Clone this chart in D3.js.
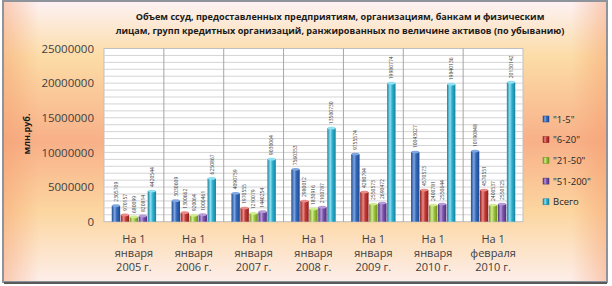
<!DOCTYPE html>
<html>
<head>
<meta charset="utf-8">
<script src="https://cdn.jsdelivr.net/npm/d3@7"></script>
<style>
  body { margin: 0; background: #ffffff; }
  text { font-family: "Open Sans", "Liberation Sans", sans-serif; }
</style>
</head>
<body>
<svg id="chart"></svg>
<script>
const width = 612;
const height = 286;

// data
const periods = [
  ["На 1", "января", "2005 г."],
  ["На 1", "января", "2006 г."],
  ["На 1", "января", "2007 г."],
  ["На 1", "января", "2008 г."],
  ["На 1", "января", "2009 г."],
  ["На 1", "января", "2010 г."],
  ["На 1", "февраля", "2010 г."]
];
const seriesNames = ["\"1-5\"", "\"6-20\"", "\"21-50\"", "\"51-200\"", "Всего"];
const group1_5 = [2305709, 3030609, 4090759, 7560353, 9755574, 10043027, 10190848];
const group6_20 = [970157, 1300662, 1970555, 2980012, 4280794, 4570573, 4570551];
const group21_50 = [680099, 920064, 1210079, 1830916, 2550573, 2400781, 2400537];
const group51_200 = [820814, 1000461, 1440254, 2100787, 2690472, 2550644, 2550125];
const total = [4420544, 6250867, 9030064, 13500730, 19980774, 19840136, 20130142];
const yTicks = [0, 5000000, 10000000, 15000000, 20000000, 25000000];
const titleLines = [
  "Объем ссуд, предоставленных предприятиям, организациям, банкам и физическим",
  "лицам, групп кредитных организаций, ранжированных по величине активов (по убыванию)"
];

const seriesValues = [group1_5, group6_20, group21_50, group51_200, total];
const colors = [
  { dark: "#1d4a8f", mid: "#3468b8", light: "#7fa6e0" },
  { dark: "#8e1f1d", mid: "#c23a36", light: "#ea8a86" },
  { dark: "#6d8f1f", mid: "#9cc43e", light: "#d2ec92" },
  { dark: "#4f2f7a", mid: "#7a52aa", light: "#b79ad8" },
  { dark: "#1a7f99", mid: "#2eb1d0", light: "#8fe0f2" }
];

const plot = { left: 104, right: 523, top: 48.5, bottom: 221.7 };

const svg = d3.select("#chart")
  .attr("width", width)
  .attr("height", height);

const defs = svg.append("defs");

const bg = defs.append("linearGradient")
  .attr("id", "bg").attr("x1", 0).attr("y1", 0).attr("x2", 0).attr("y2", 1);
[["0", "#fdf2f5"], ["0.2", "#fcdca6"], ["0.5", "#f8b088"], ["0.75", "#fcd6a0"], ["1", "#fdeeea"]]
  .forEach(([o, c]) => bg.append("stop").attr("offset", o).attr("stop-color", c));

const edges = defs.append("linearGradient")
  .attr("id", "edges").attr("x1", 0).attr("y1", 0).attr("x2", 1).attr("y2", 0);
[["0", "#f49a6a", 0.45], ["0.06", "#f49a6a", 0], ["0.94", "#f49a6a", 0], ["1", "#f49a6a", 0.45]]
  .forEach(([o, c, a]) => edges.append("stop").attr("offset", o).attr("stop-color", c).attr("stop-opacity", a));

colors.forEach((c, i) => {
  const g = defs.append("linearGradient")
    .attr("id", "bar" + i).attr("x1", 0).attr("y1", 0).attr("x2", 1).attr("y2", 0);
  g.append("stop").attr("offset", "0").attr("stop-color", c.dark);
  g.append("stop").attr("offset", "0.35").attr("stop-color", c.light);
  g.append("stop").attr("offset", "0.6").attr("stop-color", c.mid);
  g.append("stop").attr("offset", "1").attr("stop-color", c.dark);
});

// frame
svg.append("rect")
  .attr("x", 3).attr("y", 1).attr("width", 604).attr("height", 281)
  .attr("fill", "url(#bg)");
svg.append("rect")
  .attr("x", 3).attr("y", 1).attr("width", 604).attr("height", 281)
  .attr("fill", "url(#edges)")
  .attr("stroke", "#8f949c").attr("stroke-width", 2);
svg.append("line")
  .attr("x1", 4).attr("x2", 607).attr("y1", 283).attr("y2", 283)
  .attr("stroke", "#5a5a5a").attr("stroke-width", 2);

// title
svg.append("g").selectAll("text")
  .data(titleLines)
  .join("text")
  .attr("x", 340)
  .attr("y", (d, i) => 20 + i * 13.5)
  .attr("text-anchor", "middle")
  .attr("font-size", "9.1px")
  .attr("font-weight", "bold")
  .attr("fill", "#1a1a1a")
  .text(d => d);

const x = d3.scaleBand()
  .domain(d3.range(periods.length))
  .range([plot.left, plot.right]);

const xInner = d3.scaleBand()
  .domain(d3.range(seriesNames.length))
  .range([0, x.bandwidth()])
  .paddingOuter(0.83);

const y = d3.scaleLinear()
  .domain([0, 25000000])
  .range([plot.bottom, plot.top]);

// plot area
svg.append("rect")
  .attr("x", plot.left).attr("y", plot.top)
  .attr("width", plot.right - plot.left).attr("height", plot.bottom - plot.top)
  .attr("fill", "#ffffff")
  .attr("stroke", "#bfbfbf");

svg.append("g")
  .selectAll("line")
  .data(d3.range(1000000, 25000000, 1000000))
  .join("line")
  .attr("x1", plot.left).attr("x2", plot.right)
  .attr("y1", d => y(d)).attr("y2", d => y(d))
  .attr("stroke", "#d4d4d4");

svg.append("g")
  .selectAll("line")
  .data(d3.range(1, periods.length))
  .join("line")
  .attr("x1", d => x(d)).attr("x2", d => x(d))
  .attr("y1", plot.top).attr("y2", plot.bottom)
  .attr("stroke", "#a6a6a6");

// y axis
const yAxis = d3.axisLeft(y)
  .tickValues(yTicks)
  .tickSize(0)
  .tickPadding(10)
  .tickFormat(d3.format("d"));

svg.append("g")
  .attr("transform", `translate(${plot.left},0)`)
  .call(yAxis)
  .call(g => g.select(".domain").remove())
  .call(g => g.selectAll("text")
    .attr("font-size", "11.5px")
    .attr("fill", "#404040")
    .attr("font-family", "'Open Sans', sans-serif"));

svg.append("text")
  .attr("transform", "translate(30,134) rotate(-90)")
  .attr("text-anchor", "middle")
  .attr("font-size", "9px")
  .attr("font-weight", "bold")
  .attr("fill", "#1a1a1a")
  .text("млн.руб.");

// x labels
const xLabels = svg.append("g")
  .selectAll("text")
  .data(periods)
  .join("text")
  .attr("text-anchor", "middle")
  .attr("font-size", "11px")
  .attr("fill", "#404040");

xLabels.selectAll("tspan")
  .data((d, i) => d.map(line => ({ line, i })))
  .join("tspan")
  .attr("x", d => x(d.i) + x.bandwidth() / 2)
  .attr("y", (d, j) => 243 + j * 14)
  .text(d => d.line);

// bars
const bars = [];
seriesValues.forEach((vals, s) => {
  vals.forEach((v, i) => bars.push({ s, i, v }));
});

const barG = svg.append("g")
  .selectAll("g")
  .data(bars)
  .join("g")
  .attr("transform", d => `translate(${x(d.i) + xInner(d.s)},0)`);

barG.append("rect")
  .attr("x", 0.3)
  .attr("width", xInner.bandwidth() - 0.6)
  .attr("y", d => y(d.v))
  .attr("height", d => y(0) - y(d.v))
  .attr("fill", d => `url(#bar${d.s})`);

barG.append("ellipse")
  .attr("cx", xInner.bandwidth() / 2)
  .attr("cy", d => y(d.v))
  .attr("rx", xInner.bandwidth() / 2 - 0.6)
  .attr("ry", 1.4)
  .attr("fill", d => colors[d.s].light);

barG.append("text")
  .attr("transform", d => `translate(${xInner.bandwidth() / 2 + 1.8},${y(d.v) - 4}) rotate(-90)`)
  .attr("font-size", "5px")
  .attr("fill", "#404040")
  .text(d => d3.format("d")(d.v));

// legend
const legend = svg.append("g")
  .selectAll("g")
  .data(seriesNames)
  .join("g")
  .attr("transform", (d, i) => `translate(543,${119 + i * 20.7})`);

legend.append("rect")
  .attr("x", 0).attr("y", -3)
  .attr("width", 6).attr("height", 6)
  .attr("fill", (d, i) => `url(#bar${i})`)
  .attr("stroke", (d, i) => colors[i].dark)
  .attr("stroke-width", 0.5);

legend.append("text")
  .attr("x", 10)
  .attr("y", 3.5)
  .attr("font-size", "9.5px")
  .attr("fill", "#262626")
  .text(d => d);
</script>
</body>
</html>
